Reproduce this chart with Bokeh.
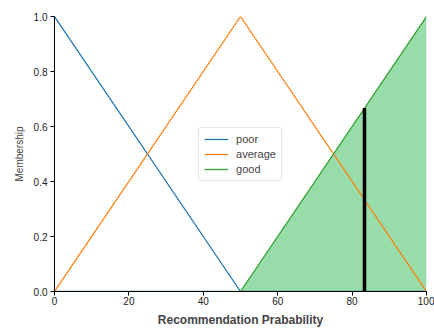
from bokeh.plotting import figure
from bokeh.models import Range1d, FixedTicker
from bokeh.embed import file_html
from bokeh.resources import INLINE

# Data
universe = [0, 50, 100]
poor = [1.0, 0.0, 0.0]
average = [0.0, 1.0, 0.0]
good = [0.0, 0.0, 1.0]
defuzz_x = [83.33, 83.33]
defuzz_y = [0.0, 0.667]
x_ticks = [0, 20, 40, 60, 80, 100]
y_ticks = [0.0, 0.2, 0.4, 0.6, 0.8, 1.0]

FONT = "Liberation Sans"

p = figure(width=434, height=329, output_backend="svg", toolbar_location=None,
           x_range=Range1d(0, 100), y_range=Range1d(0, 1.0))
p.min_border_left = 54
p.min_border_top = 16
p.min_border_right = 8
p.min_border_bottom = 30
p.outline_line_color = None
p.grid.visible = False
p.background_fill_color = "white"

# fill under 'good'
p.varea(x=universe, y1=[0, 0, 0], y2=good, fill_color="#98dcaa", fill_alpha=1.0)

p.line(universe, poor, line_color="#1f77b4", line_width=1.3, legend_label="poor")
p.line(universe, average, line_color="#ff7f0e", line_width=1.3, legend_label="average")
p.line(universe, good, line_color="#2ca02c", line_width=1.3, legend_label="good")

p.line(defuzz_x, defuzz_y, line_color="black", line_width=3.5)

legend = p.legend[0]
legend.location = "center"
legend.label_text_font = FONT
legend.label_text_font_size = "11px"
legend.label_height = 12
legend.glyph_height = 12
legend.glyph_width = 24
legend.label_standoff = 8
legend.spacing = 3
legend.padding = 5
legend.margin = 0
legend.border_line_color = "#cccccc"
legend.border_line_width = 1
legend.border_radius = 3
legend.background_fill_alpha = 0.8

for ax in (p.xaxis[0], p.yaxis[0]):
    ax.axis_line_color = "black"
    ax.major_tick_line_color = "black"
    ax.major_tick_out = 4
    ax.major_tick_in = 0
    ax.minor_tick_line_color = None
    ax.major_label_text_font = FONT
    ax.major_label_text_font_size = "10px"
    ax.major_label_text_color = "#222222"
    ax.axis_label_text_font = FONT

p.xaxis.ticker = FixedTicker(ticks=x_ticks)
p.yaxis.ticker = FixedTicker(ticks=y_ticks)
p.yaxis.major_label_overrides = {v: f"{v:.1f}" for v in y_ticks}
p.xaxis.axis_label = "Recommendation Prabability"
p.xaxis.axis_label_text_font_style = "bold"
p.xaxis.axis_label_text_font_size = "12px"
p.xaxis.axis_label_standoff = 5
p.yaxis.axis_label = "Membership"
p.yaxis.axis_label_text_font_style = "normal"
p.yaxis.axis_label_text_font_size = "10px"
p.yaxis.axis_label_standoff = 6
p.xaxis.major_label_standoff = 1
p.yaxis.major_label_standoff = 3

open("out.html", "w").write(file_html(p, INLINE))
